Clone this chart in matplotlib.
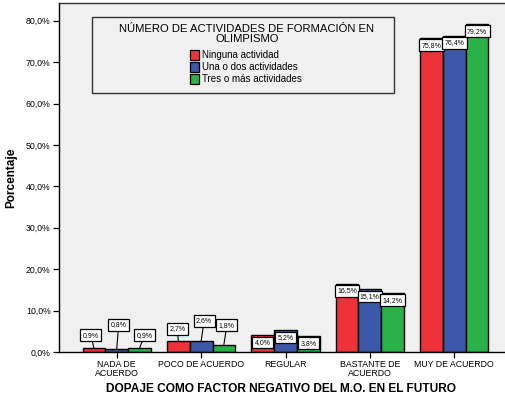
import numpy as np
import matplotlib
matplotlib.use("Agg")
import matplotlib.pyplot as plt
from matplotlib.patches import Rectangle

plt.rcParams["font.family"] = ["Liberation Sans", "DejaVu Sans"]

categories = ["NADA DE\nACUERDO", "POCO DE ACUERDO", "REGULAR", "BASTANTE DE\nACUERDO", "MUY DE ACUERDO"]
series_names = ["Ninguna actividad", "Una o dos actividades", "Tres o más actividades"]
ninguna = [0.9, 2.7, 4.0, 16.5, 75.8]
una_dos = [0.8, 2.6, 5.2, 15.1, 76.4]
tres_mas = [0.9, 1.8, 3.8, 14.2, 79.2]
yticks = [0, 10, 20, 30, 40, 50, 60, 70, 80]

colors = ["#ee323a", "#3d58a8", "#2ab248"]
BG = "#f0f0f0"

W, H = 506, 401
fig = plt.figure(figsize=(W / 100, H / 100), dpi=100, facecolor="white")

def fx(x):
    return x / W

def fy(y):
    return 1 - y / H

# axes frame in pixels: left 59, bottom 352, top 3 (right edge runs off the canvas)
ax = fig.add_axes([fx(59), fy(352), (512 - 59) / W, (352 - 3) / H])
ax.set_facecolor(BG)

x = np.arange(len(categories))
bw = 0.27
data = [ninguna, una_dos, tres_mas]

# label nudges (dx, dy in pixels, box centre relative to bar top) for short bars
nudges = {
    (0, 0): (-3, 15), (0, 1): (2, 26), (0, 2): (5, 15),
    (1, 0): (-1, 14), (1, 1): (3, 22.5), (1, 2): (3, 21.5),
}

for s, vals in enumerate(data):
    xs = x + (s - 1) * bw
    ax.bar(xs, vals, width=bw, color=colors[s], edgecolor="black", linewidth=1.0, zorder=2)
    for c, (xi, v) in enumerate(zip(xs, vals)):
        txt = f"{v:.1f}%".replace(".", ",")
        box = dict(boxstyle="square,pad=0.35", fc="white", ec="black", lw=0.9)
        if (c, s) in nudges:
            dx, dy = nudges[(c, s)]
            ax.annotate(txt, xy=(xi, v), xytext=(dx * 0.72, (dy - 5.5) * 0.72),
                        textcoords="offset points", ha="center", va="bottom",
                        fontsize=5.0, bbox=box, zorder=4,
                        arrowprops=dict(arrowstyle="-", color="black", lw=0.8,
                                        shrinkA=0, shrinkB=0))
        else:
            ax.annotate(txt, xy=(xi, v), xytext=(0, -7.0 * 0.72),
                        textcoords="offset points", ha="center", va="center",
                        fontsize=5.0, bbox=box, zorder=4)

ax.set_xlim(-0.684, 4.684)
ax.set_ylim(0, 84.3)
ax.set_xticks(x)
ax.set_xticklabels(categories, fontsize=6.3, linespacing=0.95)
ax.set_yticks(yticks)
ax.set_yticklabels([f"{t:.1f}%".replace(".", ",") for t in yticks], fontsize=6.3)
ax.tick_params(axis="both", direction="out", length=4, width=0.9, color="black", pad=2)

for sp in ax.spines.values():
    sp.set_color("black")
    sp.set_linewidth(1.0)
ax.spines["top"].set_color("#333333")

ax.set_ylabel("Porcentaje", fontsize=8.5, fontweight="bold")
ax.yaxis.set_label_coords((17 - 59) / 453, 0.5)
ax.set_xlabel("DOPAJE COMO FACTOR NEGATIVO DEL M.O. EN EL FUTURO", fontsize=8.6, fontweight="bold")
ax.xaxis.set_label_coords((281 - 59) / 453, (352 - 389) / 349)
ax.xaxis.label.set_va("center")

# legend panel drawn by hand
fig.patches.append(Rectangle((fx(92), fy(93)), fx(394) - fx(92), fy(17) - fy(93),
                             transform=fig.transFigure, fc=BG, ec="#333333", lw=1.0, zorder=5))
fig.text(fx(247), fy(34), "NÚMERO DE ACTIVIDADES DE FORMACIÓN EN\nOLIMPISMO",
         ha="center", va="center", fontsize=8.1, linespacing=0.95, zorder=6)
for i, name in enumerate(series_names):
    yc = 55 + i * 12
    fig.patches.append(Rectangle((fx(190), fy(yc + 4.5)), fx(9), fy(0) - fy(9),
                                 transform=fig.transFigure, fc=colors[i], ec="black",
                                 lw=0.9, zorder=6))
    fig.text(fx(202), fy(yc), name, ha="left", va="center", fontsize=7.0, zorder=6)

fig.savefig("out.png", dpi=100, facecolor="white")
